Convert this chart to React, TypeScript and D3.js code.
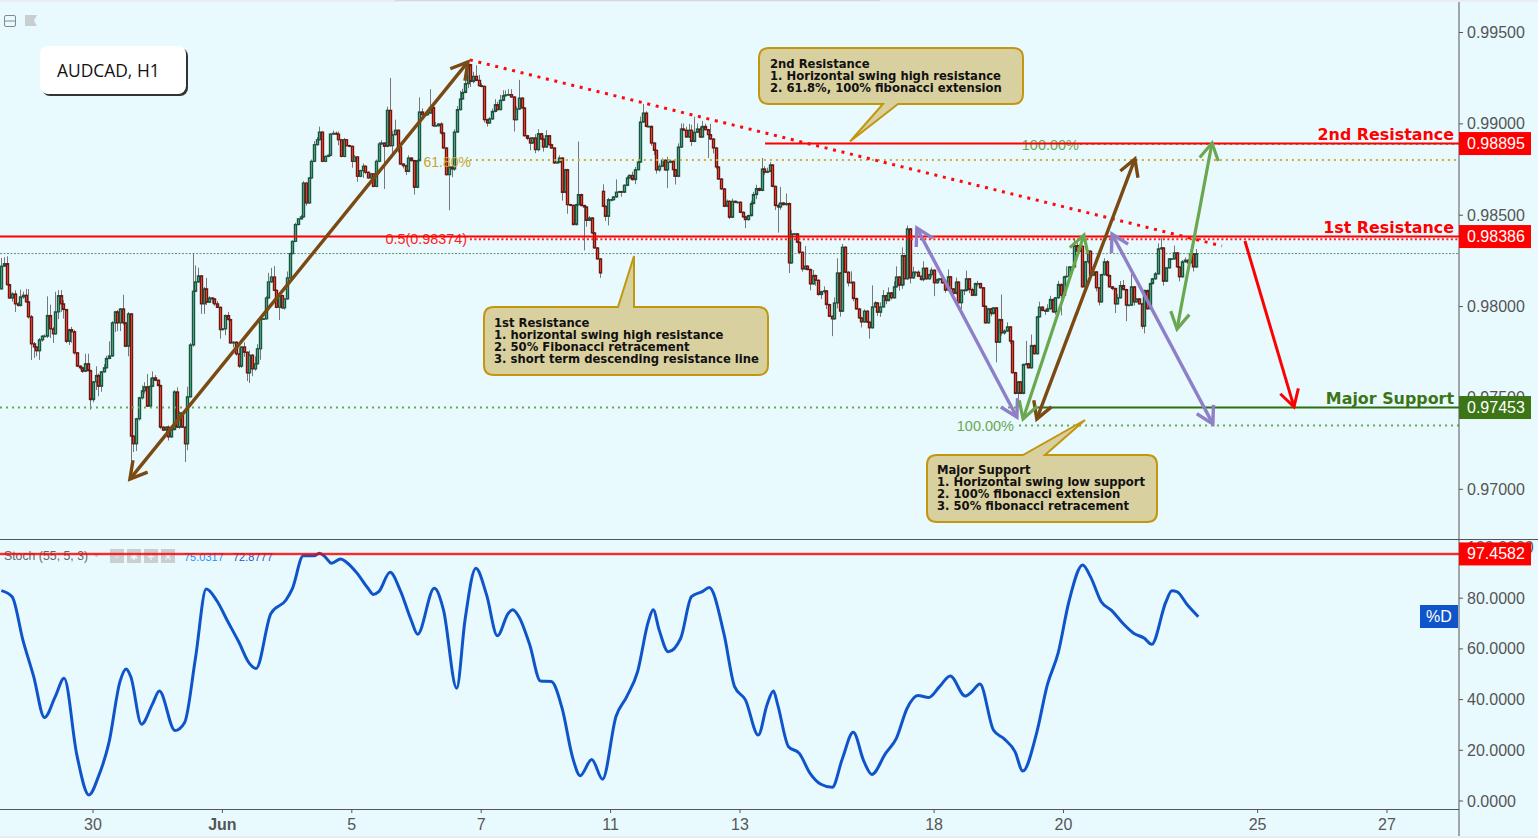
import React from "react";
import * as d3 from "d3";

// Hourly closes, price x 100000
const closes0: number[] = [
98221,98235,98120,98047,98069,98015,98006,98053,98062,98026,97944,97796,97779,97758,97818,97838,97838,97951,97878,97851,
97971,98060,98015,97984,97810,97874,97862,97747,97674,97665,97646,97687,97650,97491,97588,97623,97564,97643,97665,97716,
97730,97911,97971,97911,97987,97911,97783,97960,97291,97249,97386,97501,97539,97561,97455,97564,97610,97597,97568,97340,
97324,97340,97287,97327,97533,97340,97418,97340,97249,97506,97790,98084,98135,98168,98015,98097,98024,98047,98042,98015,
97996,97874,97878,97951,97929,97801,97805,97741,97674,97779,97750,97637,97734,97659,97687,97769,97933,97933,98047,98135,
98162,98089,97996,98060,97993,98042,98157];
const closes1: number[] = [
98290,98357,98449,98480,98491,98676,98567,98704,98795,98886,98913,98955,98795,98822,98828,98944,98948,98944,98913,98822,
98913,98881,98877,98795,98819,98713,98744,98768,98735,98704,98726,98658,98795,98890,98895,98877,99074,98881,98941,98965,
98873,98780,98771,98740,98813,98799,98653,98799,99065,99050,99050,99059,99090,98990,98990,98999,98950,98868,98722,98764,
98753,98955,99078,99136,99172,99220,99324,99232,99260,99238,99209,99205,99023,99005,99027,99068,99105,99078,99129,99154,
99158,99160,99147,99023,99081,99141,99087,98935,98921,98895,98923,98859,98946,98917,98873,98935,98886,98868,98786,98790,
98813,98625,98749,98558,98554,98449,98558,98613,98553,98545,98472,98485,98403,98321,98261,98184];
const closes2: number[] = [
98549,98494,98585,98585,98600,98626,98629,98626,98664,98704,98718,98695,98749,98791,99010,99059,98986,98986,98895,98855,
98748,98768,98801,98748,98790,98795,98749,98713,98873,98972,98965,98928,98965,98904,98954,98972,98928,98986,98968,98941,
98917,98868,98764,98698,98644,98549,98576,98489,98576,98571,98571,98516,98491,98476,98498,98564,98613,98646,98636,98753,
98735,98740,98775,98658,98553,98545,98567,98558,98564,98239,98398,98398,98352,98297,98206,98221,98203,98124,98170,98144,
98066,98082,98086,98011,97947,97933,98020,98184,97975,98325,98188,98130,98133,98044,97987,97938,97916,97975,97915,97884,
97998,98020,97969,97998,98060,98033,98075,98048,98108,98162,98117,98279,98152,98425,98157,98188,98188,98166];
const closes3: number[] = [
98148,98210,98152,98175,98199,98130,98148,98152,98130,98090,98163,98097,98072,98134,98021,98090,98088,98152,98093,98062,
98126,98126,98103,98002,97911,97988,97962,97993,97805,97929,97856,97866,97889,97811,97638,97525,97588,97525,97683,97687,
97665,97787,97742,97944,97997,97979,97975,97988,98039,97971,98048,98121,98062,98163,98166,98217,98217,98334,98303,98330,
98108,98245,98303,98172,98190,98103,98026,98175,98245,98170,98108,98099,98015,98048,98115,98093,98008,98008,98108,98026,
98042,98015,97893,98088,97988,98126,98152,98179,98316,98321,98139,98212,98261,98261,98294,98217,98163,98245,98254,98239,
98289,98217,98290];
const closes = [...closes0, ...closes1, ...closes2, ...closes3];
// bars whose open is not the previous close (session gaps)
const gapOpens: Record<number, number> = { 0: 98097, 223: 98631 };

// wick length above / below each body, price x 100000
const wickUp: number[] = [
45,35,40,5,10,20,10,40,20,35,70,10,10,5,10,5,10,105,60,10,
110,30,30,20,0,5,15,10,5,5,5,55,55,5,5,50,10,5,20,15,
80,10,5,10,5,78,5,10,5,5,5,5,30,25,70,45,35,15,5,5,
5,5,10,5,10,25,10,5,5,55,10,210,90,45,5,10,60,10,5,5,
15,5,5,5,20,5,5,5,35,5,25,5,25,5,40,25,5,5,10,50,
50,60,5,5,5,5,35,
5,5,10,5,10,10,5,5,10,20,15,30,5,5,5,5,15,10,15,5,
10,5,5,5,10,5,5,15,5,5,5,5,10,10,15,5,20,177,20,58,
5,5,5,5,15,5,5,5,80,20,15,10,100,5,20,5,10,5,5,5,
5,15,20,45,20,30,10,5,25,60,30,15,5,5,10,15,30,15,30,30,
25,30,30,5,15,100,5,5,5,5,5,20,25,5,20,30,5,5,5,5,
15,5,5,5,5,5,5,290,5,5,5,10,5,5,5,5,
38,5,10,5,5,70,5,5,5,10,5,20,15,15,30,50,10,5,5,5,
5,15,10,5,30,10,5,5,20,30,30,20,35,30,85,30,15,30,15,5,
60,5,5,5,5,5,10,5,15,5,5,5,5,5,5,15,15,20,5,60,
15,20,15,5,5,10,88,5,55,5,20,5,5,5,5,110,5,5,30,5,
5,5,25,5,5,5,30,80,5,18,5,5,60,5,5,5,5,10,5,5,
118,10,5,25,30,5,30,5,30,58,5,45,5,18,5,30,5,10,
5,38,5,5,15,5,5,5,5,5,40,5,5,25,5,5,5,45,5,10,
5,15,5,5,5,5,5,5,5,5,137,10,25,5,5,5,5,5,5,125,
5,60,5,5,30,5,5,25,20,5,5,20,5,5,55,5,5,40,15,5,
5,5,5,5,5,5,5,5,20,10,5,5,5,20,25,30,5,5,70,5,
5,5,5,5,5,5,5,10,30,55,5,5,5,5,40,5,5,10,15,5,
10,5,25];
const wickDown: number[] = [
5,0,5,5,20,45,5,5,10,5,10,88,60,30,50,10,5,10,50,50,
5,40,45,50,10,20,60,10,5,10,10,5,5,55,15,45,55,30,5,5,
5,5,50,45,45,10,5,55,226,45,40,10,10,15,5,5,5,5,5,10,
5,25,20,5,5,5,10,5,100,35,5,10,5,5,55,55,15,5,25,10,
5,50,5,35,5,5,25,10,10,10,25,45,55,40,10,5,60,5,5,5,
5,5,5,70,5,10,5,
5,5,5,5,5,5,15,5,5,5,5,5,5,5,5,5,5,5,30,5,
5,5,5,35,5,30,5,40,10,5,5,5,5,5,5,233,5,5,45,5,
30,5,15,20,5,5,40,5,5,5,5,5,5,5,5,5,10,5,5,195,
45,10,5,5,5,5,25,30,10,5,5,5,15,20,5,5,5,5,5,5,
5,5,5,65,5,5,5,5,10,40,5,20,10,5,25,5,5,5,5,5,
5,45,5,50,5,5,5,5,5,237,35,5,5,5,5,27,
5,25,50,10,5,5,5,25,5,5,5,5,25,5,5,5,5,5,15,25,
20,10,5,5,100,5,40,45,5,5,5,5,5,25,5,5,5,5,5,128,
5,30,10,5,5,5,5,10,5,5,5,5,5,47,5,5,5,25,5,5,
15,5,5,5,25,140,15,5,5,55,5,5,5,10,15,5,5,35,5,30,
5,25,10,25,5,95,5,30,30,5,5,20,5,15,5,5,30,5,5,60,
5,5,20,25,5,20,5,10,5,5,30,20,35,5,30,5,20,5,
5,10,5,5,15,73,5,10,5,15,5,25,15,5,5,35,25,5,20,5,
5,15,5,5,5,5,15,5,110,5,15,10,5,15,5,5,30,5,5,5,
5,5,5,5,5,5,20,5,5,5,15,5,110,5,5,5,5,5,5,5,
5,5,10,5,5,20,20,5,5,5,5,10,50,5,5,5,88,5,5,20,
5,5,15,40,5,5,5,5,5,5,25,5,5,5,5,5,25,5,5,5,
5,25,5];

// %D of Stoch (55,5,3), one reading every fourth bar
const stochStep = 4;
const stochD: number[] = [
83.0,80.6,63.5,49.1,32.9,41.2,47.7,18.2,3.0,9.6,23.4,47.1,49.1,30.3,38.1,41.8,28.0,31.0,56.3,83.6,
78.9,70.8,62.9,54.3,54.3,74.0,83.0,83.9,96.7,96.7,96.4,94.2,94.2,89.8,83.9,82.6,90.2,83.0,71.4,69.4,
83.9,75.4,45.8,71.4,91.8,81.3,65.5,74.0,72.7,61.6,47.3,47.1,36.6,16.8,11.6,14.2,10.3,33.3,41.2,51.0,
70.8,67.5,58.9,64.2,80.6,82.6,83.2,66.2,45.1,39.9,26.7,37.9,37.9,21.4,18.8,10.9,6.6,5.7,16.8,27.1,
15.5,11.6,18.8,24.7,36.6,41.6,40.8,45.1,49.3,45.1,43.1,45.1,28.0,24.5,19.5,13.2,26.7,45.8,58.3,78.6,
91.8,88.5,78.6,75.0,70.1,66.2,64.2,62.9,78.6,82.6,77.3,72.7];
// turning points of %D that fall between those readings
const stochTurnBars: number[] = [23.3,32.5,46.3,58.6,64.4,94.5,105.6,118,122.5,125.9,138,144.2,154.4,160.6,168.9,176,184,189.7,214.7,219,223,241.8,247.4,262.6,280.8,286.4,308.2,316,322.9,352,357.5,363,378.9,401.1,426.7,434.2];
const stochTurnVals: number[] = [48.4,2.4,52.1,43.4,27.8,52.3,79.3,97.7,93.8,95.5,81.5,90.2,65.8,83.9,44.5,91.8,65.2,75.4,10,16.4,8.6,75.4,58.9,84.2,26,43.4,5.4,27.1,10.5,49.3,41.4,46.2,11.8,93.1,61.8,82.9];

const priceTicks = [97000, 97500, 98000, 98500, 99000, 99500];
const stochTicks = [0, 20, 40, 60, 80, 100];
const dateBars = [34, 82, 130, 178, 226, 274, 346, 394, 466, 514];
const dateLabels = ["30", "Jun", "5", "7", "11", "13", "18", "20", "25", "27"];

type Pt = [number, number];
// bar index, price
const doubleArrows: { a: Pt; b: Pt; color: string; w: number }[] = [
  { a: [47.7, 97056], b: [173.1, 99339], color: "#7b4a12", w: 3.4 },
  { a: [384.1, 97385], b: [420.5, 98808], color: "#7b4a12", w: 3.4 },
  { a: [339.6, 98430], b: [376.7, 97395], color: "#8f7fc7", w: 3.4 },
  { a: [412, 98397], b: [449.4, 97358], color: "#8f7fc7", w: 3.4 },
  { a: [379, 97385], b: [401.6, 98392], color: "#6aa84f", w: 3.2 },
  { a: [449.1, 98895], b: [436.1, 97877], color: "#6aa84f", w: 3.2 },
];
const forecastFrom: Pt = [461.3, 98359];
const forecastTo: Pt = [479.5, 97451];
const trendFrom: Pt = [173.8, 99350];
const trendTo: Pt = [452.8, 98332];
const res1 = 98386, res2 = 98895, sup = 97453, fib618 = 98802, fib50 = 98374, fib100top = 98890, fib100low = 97349, stochLevel = 97.4582;

const W = 1538, H = 838, AX = 1459;
const FONT = "'Liberation Sans', Arial, sans-serif";
const VERD = "'DejaVu Sans', Verdana, sans-serif";

const x = d3.scaleLinear().domain([34, 514]).range([93, 1387]);
const y = d3.scaleLinear().domain([97000, 99500]).range([489.3, 32.5]);
const ys = d3.scaleLinear().domain([0, 100]).range([801, 547.5]);

const head = (from: Pt, to: Pt, color: string, w = 3) => {
  const [x0, y0] = from, [x1, y1] = to;
  const ang = Math.atan2(y1 - y0, x1 - x0);
  const L = 19, sp = 0.52;
  const p = (s: number) => [x1 - L * Math.cos(ang + s * sp), y1 - L * Math.sin(ang + s * sp)];
  const a = p(1), b = p(-1);
  return <path d={`M${a[0]},${a[1]}L${x1},${y1}L${b[0]},${b[1]}`} fill="none" stroke={color} strokeWidth={w} />;
};
const px = (p: Pt): Pt => [x(p[0]), y(p[1])];

function Callout({ box, tail, lines, tx, ty }: { box: [number, number, number, number]; tail: [Pt, Pt, Pt]; lines: string[]; tx: number; ty: number }) {
  const [x0, y0, x1, y1] = box, r = 10;
  const top = tail[0][1] <= y0 + 1;
  const d = `M${x0 + r},${y0}` +
    (top ? `L${tail[0][0]},${y0}L${tail[1][0]},${tail[1][1]}L${tail[2][0]},${y0}` : "") +
    `L${x1 - r},${y0}Q${x1},${y0} ${x1},${y0 + r}L${x1},${y1 - r}Q${x1},${y1} ${x1 - r},${y1}` +
    (!top ? `L${tail[2][0]},${y1}L${tail[1][0]},${tail[1][1]}L${tail[0][0]},${y1}` : "") +
    `L${x0 + r},${y1}Q${x0},${y1} ${x0},${y1 - r}L${x0},${y0 + r}Q${x0},${y0} ${x0 + r},${y0}Z`;
  return (
    <g>
      <path d={d} fill="#d9d0a0" stroke="#c2960f" strokeWidth={2} />
      {lines.map((t, i) => (
        <text key={i} x={tx} y={ty + i * 12} fontFamily={VERD} fontWeight="bold" fontSize={11.6} fill="#111">{t}</text>
      ))}
    </g>
  );
}

export default function App() {
  const stochPts: Pt[] = [
    ...stochD.map((v, i): Pt => [i * stochStep, v]).filter(([b]) => !stochTurnBars.some((t) => Math.abs(t - b) < 1.6)),
    ...stochTurnBars.map((b, i): Pt => [b, stochTurnVals[i]]),
  ].sort((a, b) => a[0] - b[0]);
  const stochLine = d3.line<Pt>().x((d) => x(d[0])).y((d) => ys(d[1])).curve(d3.curveMonotoneX);
  const tag = (yy: number, label: string, fill: string) => (
    <g>
      <rect x={AX} y={yy - 11.5} width={72} height={23} fill={fill} />
      <text x={1467} y={yy + 5.5} fontFamily={FONT} fontSize={16} fill="#fff">{label}</text>
    </g>
  );
  const level = (yy: number, x0: number, color: string) => (
    <g>
      <line x1={x0} x2={AX} y1={yy} y2={yy} stroke={color} strokeOpacity={0.35} strokeWidth={3} />
      <line x1={x0} x2={AX} y1={yy} y2={yy} stroke={color} strokeWidth={1.5} />
    </g>
  );
  const lastY = y(closes[closes.length - 1]);
  return (
    <svg width={W} height={H} style={{ position: "fixed", left: 0, top: 0, display: "block" }}>
      <rect width={W} height={H} fill="#e9faff" />
      <rect width={W} height={2} fill="#e8edf0" />
      <rect x={395} width={485} height={1} fill="#d3d9dc" />
      <rect y={836} width={W} height={2} fill="#e8edf0" />

      {/* chart tools */}
      <rect x={4.5} y={15.5} width={11} height={11} rx={1.5} fill="none" stroke="#888" />
      <line x1={5} x2={15} y1={21} y2={21} stroke="#888" />
      <path d="M25,15H37L34,20.5L37,26H25Z" fill="#c9ced1" />

      {/* last-price line */}
      <line x1={0} x2={AX} y1={lastY} y2={lastY} stroke="#5f9078" strokeWidth={1} strokeDasharray="2 1.5" />

      {/* candles */}
      <g>
        {closes.map((c, i) => {
          const o = gapOpens[i] ?? closes[i - 1];
          const hi = Math.max(o, c), lo = Math.min(o, c);
          const up = c >= o;
          const cx = Math.round(x(i)) + 0.5;
          const top = y(hi), bot = y(lo);
          return (
            <g key={i}>
              <line x1={cx} x2={cx} y1={y(hi + wickUp[i])} y2={y(lo - wickDown[i])} stroke="#777" strokeWidth={1} />
              <rect x={cx - 1.1} y={top} width={2.2} height={Math.max(bot - top, 0.5)} fill={up ? "#4b9c7a" : "#e23c28"} stroke={up ? "#1c5540" : "#6a1a13"} strokeWidth={1.2} />
            </g>
          );
        })}
      </g>

      {/* dotted fibonacci + support lines */}
      <line x1={0} x2={x(376.7)} y1={y(sup) + 1} y2={y(sup) + 1} stroke="#6aa84f" strokeWidth={2} strokeDasharray="2 4" />
      <line x1={x(173.8)} x2={AX} y1={y(fib618)} y2={y(fib618)} stroke="#d2ab2e" strokeWidth={2} strokeDasharray="2 4" />
      <line x1={x(173.8)} x2={AX} y1={y(fib50) + 1} y2={y(fib50) + 1} stroke="#ff2020" strokeWidth={2} strokeDasharray="2 2.5" />
      <line x1={x(400.1)} x2={AX} y1={y(fib100top)} y2={y(fib100top)} stroke="#6aa84f" strokeWidth={2} strokeDasharray="2 4" />
      <line x1={x(377.5)} x2={AX} y1={y(fib100low)} y2={y(fib100low)} stroke="#6aa84f" strokeWidth={2} strokeDasharray="2 4" />
      <text x={471} y={167} textAnchor="end" fontFamily={FONT} fontSize={14} fill="#c9a227">61.80%</text>
      <text x={467} y={244} textAnchor="end" fontFamily={FONT} fontSize={14.4} fill="#ff2020">0.5(0.98374)</text>
      <text x={1079} y={150} textAnchor="end" fontFamily={FONT} fontSize={14.5} fill="#6aa84f">100.00%</text>
      <text x={1014} y={431} textAnchor="end" fontFamily={FONT} fontSize={14.5} fill="#6aa84f">100.00%</text>

      {/* levels */}
      {level(y(res1) + 0.5, 0, "#ff0000")}
      {level(y(res2) + 0.5, x(283.3), "#ff0000")}
      {level(y(sup) + 1, x(384.1), "#2f6f12")}

      {/* trend line */}
      <line x1={px(trendFrom)[0]} y1={px(trendFrom)[1]} x2={px(trendTo)[0]} y2={px(trendTo)[1]} stroke="#ff0a0a" strokeWidth={3} strokeDasharray="3 5.7" />

      {/* arrows */}
      {doubleArrows.map((a, i) => {
        const p = px(a.a), q = px(a.b);
        return (
          <g key={i}>
            <line x1={p[0]} y1={p[1]} x2={q[0]} y2={q[1]} stroke={a.color} strokeWidth={a.w} />
            {head(p, q, a.color, a.w)}
            {head(q, p, a.color, a.w)}
          </g>
        );
      })}
      <line x1={px(forecastFrom)[0]} y1={px(forecastFrom)[1]} x2={px(forecastTo)[0]} y2={px(forecastTo)[1]} stroke="#ff0000" strokeWidth={3} />
      {head(px(forecastFrom), px(forecastTo), "#ff0000", 3)}

      {/* callouts */}
      <Callout box={[759, 48, 1023, 104]} tail={[[883, 104], [850, 141.5], [898, 104]]} tx={770} ty={67.5}
        lines={["2nd Resistance", "1. Horizontal swing high resistance", "2. 61.8%, 100% fibonacci extension"]} />
      <Callout box={[484, 307, 768, 375]} tail={[[618, 307], [634, 256], [634, 307]]} tx={494} ty={327}
        lines={["1st Resistance", "1. horizontal swing high resistance", "2. 50% Fibonacci retracement", "3. short term descending resistance line"]} />
      <Callout box={[927, 455, 1157, 522]} tail={[[1023, 455], [1085, 420], [1045, 455]]} tx={937} ty={473.5}
        lines={["Major Support", "1. Horizontal swing low support", "2. 100% fibonacci extension", "3. 50% fibonacci retracement"]} />

      {/* level names */}
      <text x={1454} y={140} textAnchor="end" fontFamily={VERD} fontWeight="bold" fontSize={15.9} fill="#ff0000">2nd Resistance</text>
      <text x={1454} y={233} textAnchor="end" fontFamily={VERD} fontWeight="bold" fontSize={15.9} fill="#ff0000">1st Resistance</text>
      <text x={1454} y={404} textAnchor="end" fontFamily={VERD} fontWeight="bold" fontSize={15.9} fill="#3b7516">Major Support</text>

      {/* symbol tag */}
      <rect x={42} y={48} width={146} height={48} rx={8} fill="#333" />
      <rect x={40} y={46} width={146} height={48} rx={8} fill="#fff" />
      <text x={57} y={77} fontFamily="'Open Sans', sans-serif" fontSize={17.4} fill="#111">AUDCAD, H1</text>

      {/* stochastic pane */}
      <rect x={0} y={540} width={AX} height={269} fill="#e9faff" />
      <path d={stochLine(stochPts) ?? ""} fill="none" stroke="#0f55c9" strokeWidth={3} />
      <text x={4} y={560} fontFamily={FONT} fontSize={12.3} fill="#666">Stoch (55, 5, 3)</text>
      <path d="M93,553.5h7l-3.5,4z" fill="#c9ced1" />
      {[110, 127, 144, 161].map((ix, i) => (
        <g key={i}>
          <rect x={ix} y={549} width={14} height={14} fill="#c9ced1" />
          <text x={ix + 7} y={560} textAnchor="middle" fontFamily={VERD} fontWeight="bold" fontSize={10} fill="#e9faff">{["◦", "✱", "+", "×"][i]}</text>
        </g>
      ))}
      <text x={184} y={561} fontFamily={FONT} fontSize={11} fill="#1e90ff">75.0317</text>
      <text x={233} y={561} fontFamily={FONT} fontSize={11} fill="#2b55c4">72.8777</text>
      <line x1={0} x2={AX} y1={ys(stochLevel)} y2={ys(stochLevel)} stroke="#ff0000" strokeOpacity={0.35} strokeWidth={3} />
      <line x1={0} x2={AX} y1={ys(stochLevel)} y2={ys(stochLevel)} stroke="#ff0000" strokeWidth={1.5} />

      {/* axes */}
      <line x1={AX} x2={AX} y1={2} y2={836} stroke="#555" strokeWidth={1} />
      <line x1={0} x2={W} y1={539.5} y2={539.5} stroke="#555" strokeWidth={1} />
      <line x1={0} x2={AX} y1={809.5} y2={809.5} stroke="#555" strokeWidth={1} />
      {priceTicks.map((t) => (
        <g key={t}>
          <line x1={AX} x2={AX + 4} y1={y(t)} y2={y(t)} stroke="#555" />
          <text x={1467} y={y(t) + 5.5} fontFamily={FONT} fontSize={16} fill="#555">{(t / 100000).toFixed(5)}</text>
        </g>
      ))}
      {stochTicks.map((t) => (
        <g key={t}>
          <line x1={AX} x2={AX + 4} y1={ys(t)} y2={ys(t)} stroke="#555" />
          <text x={1467} y={ys(t) + 5.5} fontFamily={FONT} fontSize={16} fill="#555">{t.toFixed(4)}</text>
        </g>
      ))}
      {dateBars.map((b, i) => (
        <g key={b}>
          <line x1={x(b)} x2={x(b)} y1={809} y2={813} stroke="#555" />
          <text x={x(b)} y={830} textAnchor="middle" fontFamily={FONT} fontSize={16} fontWeight={dateLabels[i] === "Jun" ? "bold" : "normal"} fill="#555">{dateLabels[i]}</text>
        </g>
      ))}

      {/* value tags */}
      {tag(y(res2) + 0.5, "0.98895", "#ff0000")}
      {tag(y(res1) + 0.5, "0.98386", "#ff0000")}
      {tag(y(sup) + 1, "0.97453", "#3b7516")}
      {tag(ys(stochLevel), "97.4582", "#ff0000")}
      <rect x={1420} y={605} width={38} height={23} fill="#0f55c9" />
      <text x={1439} y={622} textAnchor="middle" fontFamily={FONT} fontSize={16} fill="#fff">%D</text>
    </svg>
  );
}
